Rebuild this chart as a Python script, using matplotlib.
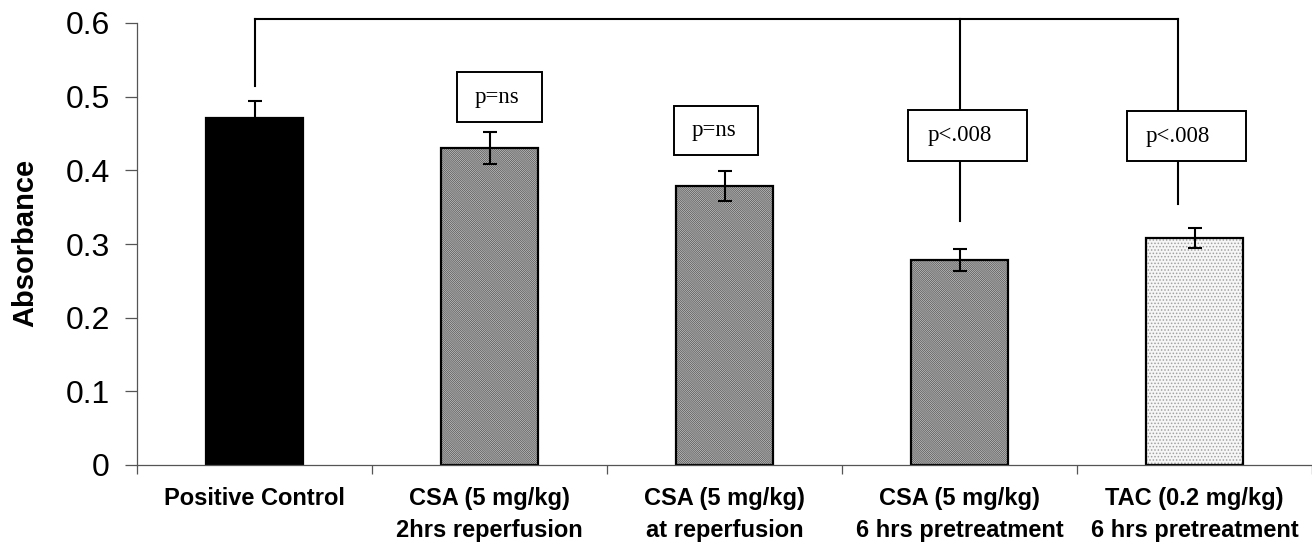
import matplotlib
matplotlib.use("Agg")
import matplotlib.pyplot as plt
from matplotlib.patches import Rectangle

plt.rcParams['font.family'] = ['Liberation Sans', 'DejaVu Sans']
plt.rcParams['hatch.linewidth'] = 0.7

# Data
categories = ["Positive Control",
              "CSA (5 mg/kg)\n2hrs reperfusion",
              "CSA (5 mg/kg)\nat reperfusion",
              "CSA (5 mg/kg)\n6 hrs pretreatment",
              "TAC (0.2 mg/kg)\n6 hrs pretreatment"]
absorbance = [0.471, 0.430, 0.379, 0.278, 0.308]
sem = [0.023, 0.022, 0.020, 0.015, 0.014]
y_ticks = [0, 0.1, 0.2, 0.3, 0.4, 0.5, 0.6]
y_tick_labels = ["0", "0.1", "0.2", "0.3", "0.4", "0.5", "0.6"]
p_labels = ["p=ns", "p=ns", "p<.008", "p<.008"]

fig = plt.figure(figsize=(13.12, 5.5), dpi=100)
ax = fig.add_axes([137 / 1312, 1 - 465 / 550, 1175 / 1312, 442 / 550])

x = list(range(len(categories)))
width = 0.41

# Base fills
faces = ['black', '#383838', '#383838', '#383838', '#f6f6f6']
ax.bar(x, absorbance, width=width, color=faces, edgecolor='none', zorder=2)

# Diagonal texture on the CSA bars, stipple on the TAC bar
ax.bar(x[1:4], absorbance[1:4], width=width, fill=False, hatch='\\' * 16,
       edgecolor='#b8b8b8', linewidth=0, zorder=2.1)
ax.bar(x[4:], absorbance[4:], width=width, fill=False, hatch='.' * 5,
       edgecolor='#a0a0a0', linewidth=0, zorder=2.1)

# Outlines
ax.bar(x, absorbance, width=width, fill=False, edgecolor='black',
       linewidth=1.6, zorder=2.2)

ax.errorbar(x, absorbance, yerr=sem, fmt='none', ecolor='black',
            elinewidth=1.5, capsize=4.7, capthick=1.5, zorder=3)

# Axes styling
ax.set_xlim(-0.5, 4.5)
ax.set_ylim(0, 0.6)
for s in ['top', 'right']:
    ax.spines[s].set_visible(False)
for s in ['left', 'bottom']:
    ax.spines[s].set_color('#555555')
    ax.spines[s].set_linewidth(0.9)

ax.set_yticks(y_ticks)
ax.set_yticklabels(y_tick_labels, fontsize=23)
ax.tick_params(axis='y', direction='out', length=8.6, width=0.9,
               color='#555555', pad=11)

ax.set_xticks([i - 0.5 for i in range(len(categories) + 1)])
ax.set_xticklabels([])
ax.tick_params(axis='x', which='major', direction='out', length=6.5,
               width=0.9, color='#555555')
ax.set_xticks(x, minor=True)
ax.set_xticklabels(categories, minor=True, fontsize=17, fontweight='bold',
                   linespacing=1.5)
ax.tick_params(axis='x', which='minor', length=0, pad=16)

ax.set_ylabel("Absorbance", fontsize=21, fontweight='bold')
ax.yaxis.set_label_coords(-0.0835, 0.502)

# Significance brackets
lw = 1.5
top = 0.605
ax.plot([0, 0], [0.514, top], color='black', lw=lw, clip_on=False)
ax.plot([0, 3.93], [top, top], color='black', lw=lw, clip_on=False)
ax.plot([3, 3], [0.331, top], color='black', lw=lw, clip_on=False, zorder=1)
ax.plot([3.93, 3.93], [0.354, top], color='black', lw=lw, clip_on=False, zorder=1)

# p-value boxes: (left, bottom, width, height) in data units and text centre
boxes = [
    (0.862, 0.4655, 0.362, 0.068, 1.03, 0.4995),
    (1.785, 0.421, 0.357, 0.067, 1.955, 0.454),
    (2.781, 0.413, 0.506, 0.069, 3.0, 0.447),
    (3.713, 0.413, 0.506, 0.068, 3.93, 0.4466),
]
for (bx, by, bw, bh, tx, ty), lab in zip(boxes, p_labels):
    ax.add_patch(Rectangle((bx, by), bw, bh, facecolor='white',
                           edgecolor='black', linewidth=1.4, zorder=4))
    ax.text(tx, ty, lab, ha='center', va='center', fontsize=16.5,
            family=['Liberation Serif', 'DejaVu Serif'], zorder=5)

fig.savefig("out.png", dpi=100)
